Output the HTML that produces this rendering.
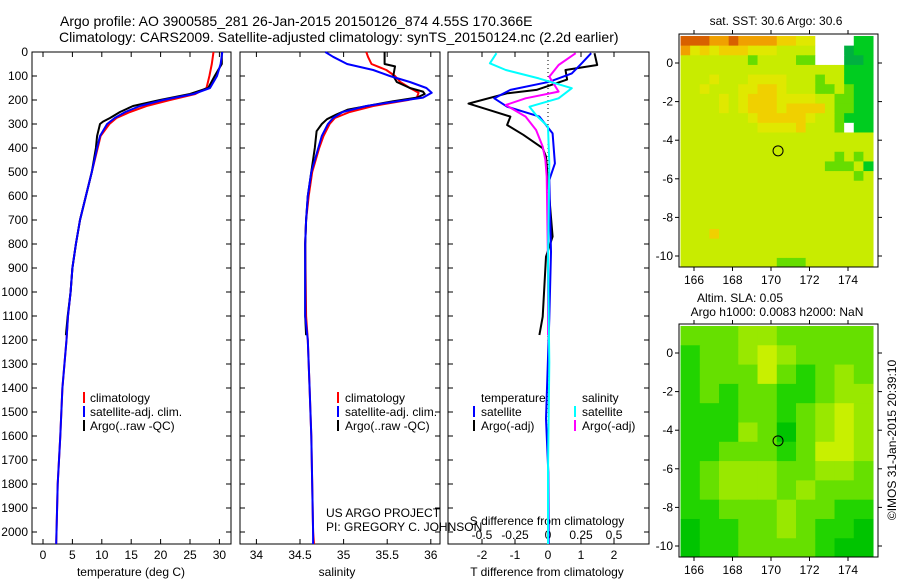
<!DOCTYPE html>
<html><head><meta charset="utf-8"><style>
html,body{margin:0;padding:0;background:#fff;}
svg{display:block;font-family:"Liberation Sans",sans-serif;}
</style></head><body>
<svg id="chart" width="900" height="580" viewBox="0 0 900 580" xmlns="http://www.w3.org/2000/svg">
<text x="60" y="26" font-size="14">Argo profile: AO 3900585_281 26-Jan-2015 20150126_874 4.55S 170.366E</text>
<text x="59" y="42" font-size="14">Climatology: CARS2009. Satellite-adjusted climatology: synTS_20150124.nc (2.2d earlier)</text>
<g id="p1"></g>
<g id="p2"></g>
<g id="p3"></g>
<g id="m1"></g>
<g id="m2"></g>
<text x="90" y="402" font-size="12">climatology</text>
<text x="90" y="416" font-size="12">satellite-adj. clim.</text>
<text x="90" y="430" font-size="12">Argo(..raw -QC)</text>
<rect x="83" y="392" width="2" height="11" fill="#f00"/><rect x="83" y="406" width="2" height="11" fill="#00f"/><rect x="83" y="420" width="2" height="11" fill="#000"/>
<text x="345" y="402" font-size="12">climatology</text>
<text x="345" y="416" font-size="12">satellite-adj. clim.</text>
<text x="345" y="430" font-size="12">Argo(..raw -QC)</text>
<rect x="337" y="392" width="2" height="11" fill="#f00"/><rect x="337" y="406" width="2" height="11" fill="#00f"/><rect x="337" y="420" width="2" height="11" fill="#000"/>
<text x="481" y="402" font-size="12">temperature</text>
<text x="481" y="416" font-size="12">satellite</text>
<text x="481" y="430" font-size="12">Argo(-adj)</text>
<rect x="473" y="406" width="2" height="11" fill="#00f"/><rect x="473" y="420" width="2" height="11" fill="#000"/>
<text x="582" y="402" font-size="12">salinity</text>
<text x="582" y="416" font-size="12">satellite</text>
<text x="582" y="430" font-size="12">Argo(-adj)</text>
<rect x="574" y="406" width="2" height="11" fill="#0ff"/><rect x="574" y="420" width="2" height="11" fill="#f0f"/>
<text x="326" y="517" font-size="12">US ARGO PROJECT</text>
<text x="326" y="531" font-size="12">PI: GREGORY C. JOHNSON</text>
<text x="776" y="25" font-size="12" text-anchor="middle">sat. SST: 30.6 Argo: 30.6</text>
<text x="740" y="302" font-size="12" text-anchor="middle">Altim. SLA: 0.05</text>
<text x="777" y="316" font-size="12" text-anchor="middle">Argo h1000: 0.0083 h2000: NaN</text>
<text transform="translate(896,440) rotate(-90)" font-size="12" text-anchor="middle">©IMOS 31-Jan-2015 20:39:10</text>
</svg>
<script>
// ---- data ----
const depthT = [0,50,75,100,150,175,200,225,250,275,300,350,400,500,600,700,800,900,1000,1100,1200,1400,1600,1800,2000,2050];
const tempClim = [29.0,28.7,28.5,28.3,27.8,25.9,21.6,17.6,14.8,12.5,11.3,9.8,9.3,8.3,7.3,6.3,5.6,5.0,4.7,4.25,4.0,3.3,2.95,2.5,2.3,2.25];
const tempSat  = [30.5,30.2,29.9,29.6,28.4,25.6,20.4,16.5,14.0,12.2,10.9,9.7,9.2,8.3,7.3,6.3,5.6,5.0,4.7,4.25,4.0,3.3,2.95,2.5,2.3,2.25];
const depthArgoT = [0,50,75,100,150,175,200,225,250,275,290,300,350,400,500,600,700,800,900,1000,1100,1180];
const tempArgo = [30.4,30.4,29.8,29.2,28.1,25.0,19.9,15.3,13.1,11.4,10.2,9.7,9.2,9.0,8.3,7.3,6.3,5.6,5.0,4.7,4.2,3.9];
const depthS = [0,20,50,75,100,125,150,170,190,200,225,250,275,300,350,400,500,600,700,800,1100,1200,1400,1600,1800,2000,2050];
const salClim = [35.26,35.28,35.32,35.49,35.59,35.65,35.76,35.86,35.84,35.74,35.34,35.07,34.90,34.84,34.77,34.72,34.64,34.60,34.57,34.56,34.57,34.59,34.61,34.63,34.64,34.65,34.66];
const salSat  = [34.79,34.88,35.04,35.34,35.53,35.76,35.95,36.01,35.91,35.72,35.26,34.99,34.88,34.82,34.75,34.71,34.63,34.59,34.57,34.56,34.56,34.59,34.61,34.63,34.64,34.65,34.65];
const depthArgoS = [0,50,60,100,125,150,165,175,190,205,220,240,260,280,300,330,400,500,600,700,800,1100,1180];
const salArgo = [35.47,35.47,35.59,35.57,35.61,35.76,35.91,35.93,35.84,35.57,35.34,35.05,34.92,34.81,34.75,34.69,34.67,34.63,34.59,34.57,34.56,34.56,34.57];
const depthDTs = [5,47,89,124,158,193,228,269,339,464,533,833,1111,1528,1750,2050];
const dTsat = [1.31,1.02,0.72,0.04,-1.14,-1.63,-1.24,-0.26,0.14,0.21,0.04,0.09,0.04,-0.06,0.01,0.02];
const depthDTa = [5,54,75,115,158,172,215,236,269,304,345,401,436,603,769,853,1103,1179];
const dTargo = [1.41,1.49,0.53,0.58,-0.35,-1.24,-2.41,-1.92,-1.14,-1.24,-0.75,-0.16,-0.06,0.04,0.14,-0.06,-0.16,-0.26];
const depthDSs = [5,47,75,110,151,193,228,263,311,464,880,1292,1750,2050];
const dSsat = [-0.39,-0.44,-0.32,-0.07,0.18,0.08,-0.14,-0.09,0,0.01,0,0.01,0,0];
const depthDSa = [5,54,103,165,193,221,269,325,394,450,519,880,1180];
const dSargo = [0.21,0.08,0.01,0.08,-0.17,-0.32,-0.17,-0.09,-0.04,-0.02,-0.01,0,0];
const depthTicks = [0,100,200,300,400,500,600,700,800,900,1000,1100,1200,1300,1400,1500,1600,1700,1800,1900,2000];
const tempTicks = [0,5,10,15,20,25,30];
const salTicks = [34,34.5,35,35.5,36];
const dtTicks = [-2,-1,0,1,2];
const dsTicks = [-0.5,-0.25,0,0.25,0.5];
const lonTicks = [166,168,170,172,174];
const latTicks = [0,-2,-4,-6,-8,-10];
const argoLon = 170.366, argoLat = -4.55;
// map grids: half-degree cells from lon 165.3 east, lat 1.4 south; digits = colour level, W = missing
const sstGrid = [
"88877877776655WWWW22",
"75656665554444WWW122",
"44444443444433WWW112",
"44444444444444444222",
"44454445555444344222",
"44544455665444334322",
"44445456665555443322",
"44445456665666643322",
"44444445666665443222",
"44444444555564443W22",
"44444444444444444444",
"44444444444444444444",
"44444444444444443434",
"44444444444444433342",
"44444444444444444434",
"44444444444444444444",
"44444444444444444444",
"44444444444444444444",
"44444444444444444444",
"44444444444444444444",
"44464444444444444444",
"44444444444444444444",
"44444444444444444444",
"44444444443334444444"];
const slaGrid = ["3334433333","2334543333","2333532343","2323322344","2223323454","2224313454","2233323554","2344433443","2344434333","2233343322","1223343221","1223333211"];

const NS="http://www.w3.org/2000/svg";
const svg=document.getElementById('chart');
function mk(parent,tag,attrs){const e=document.createElementNS(NS,tag);for(const k in attrs)e.setAttribute(k,attrs[k]);parent.appendChild(e);return e;}
const top0=52, bot=544;
const yD=d=>top0+d*0.24;
const xT=t=>43+t*5.88;
const xS=s=>300+(s-34.5)*87.2;
const xDT=v=>548+v*33;
const xDS=v=>548+v*132;

function panel(g,x0,x1){
  const r=mk(g,'rect',{x:x0,y:top0,width:x1-x0,height:bot-top0,fill:'none',stroke:'#000','stroke-width':1});
  
  
  depthTicks.forEach(d=>{mk(g,'line',{x1:x0,x2:x0+5,y1:yD(d),y2:yD(d),stroke:'#000'});mk(g,'line',{x1:x1,x2:x1-5,y1:yD(d),y2:yD(d),stroke:'#000'});});
}
function line(g,xs,ds,fx,color,name,w){
  const pts=xs.map((v,i)=>fx(v).toFixed(1)+','+yD(ds[i]).toFixed(1)).join(' ');
  const p=mk(g,'polyline',{points:pts,fill:'none',stroke:color,'stroke-width':w||2,'stroke-linejoin':'round'});
  
  
}
function xticks(g,ticks,fx,x0,x1,y,labels,fs,inside){
  ticks.forEach(t=>{const x=fx(t);
    if(inside){mk(g,'line',{x1:x,x2:x,y1:bot,y2:bot-5,stroke:'#000'});}
    else{mk(g,'line',{x1:x,x2:x,y1:bot,y2:bot-5,stroke:'#000'});mk(g,'line',{x1:x,x2:x,y1:top0,y2:top0+5,stroke:'#000'});}
    if(labels){const tx=mk(g,'text',{x:x,y:y,'font-size':fs||12,'text-anchor':'middle'});tx.textContent=String(t);
      
      }
  });
}
// panel 1
const p1=document.getElementById('p1');
panel(p1,32,231);
depthTicks.forEach(d=>{const t=mk(p1,'text',{x:28,y:yD(d)+4,'font-size':12,'text-anchor':'end'});t.textContent=d;
  
  });
xticks(p1,tempTicks,xT,32,231,559,true);
let t1=mk(p1,'text',{x:131,y:576,'font-size':12,'text-anchor':'middle'});t1.textContent='temperature (deg C)';


line(p1,tempClim,depthT,xT,'#f00','temp-climatology-line');
line(p1,tempArgo,depthArgoT,xT,'#000','temp-argo-line');
line(p1,tempSat,depthT,xT,'#00f','temp-satellite-line');
// panel 2
const p2=document.getElementById('p2');
panel(p2,240,440);
xticks(p2,salTicks,xS,240,440,559,true);
let t2=mk(p2,'text',{x:337,y:576,'font-size':12,'text-anchor':'middle'});t2.textContent='salinity';


line(p2,salClim,depthS,xS,'#f00','sal-climatology-line');
line(p2,salArgo,depthArgoS,xS,'#000','sal-argo-line');
line(p2,salSat,depthS,xS,'#00f','sal-satellite-line');
// panel 3
const p3=document.getElementById('p3');
panel(p3,448,649);
mk(p3,'line',{x1:xDT(0),x2:xDT(0),y1:top0,y2:bot,stroke:'#000','stroke-dasharray':'1,3'});
xticks(p3,dtTicks,xDT,448,649,559,true);
xticks(p3,dsTicks,xDS,448,649,539,true,12,true);
let t3=mk(p3,'text',{x:547,y:576,'font-size':12,'text-anchor':'middle'});t3.textContent='T difference from climatology';


let t4=mk(p3,'text',{x:547,y:525,'font-size':12,'text-anchor':'middle'});t4.textContent='S difference from climatology';


line(p3,dTargo,depthDTa,xDT,'#000','dt-argo-line');
line(p3,dTsat,depthDTs,xDT,'#00f','dt-satellite-line');
line(p3,dSargo,depthDSa,xDS,'#f0f','ds-argo-line');
line(p3,dSsat,depthDSs,xDS,'#0ff','ds-satellite-line');

// maps
const sstCols={'1':'#00b040','2':'#00cc20','3':'#66dd00','4':'#c8ec00','5':'#e0e800','6':'#f0d000','7':'#f0a000','8':'#d86000','W':'#ffffff'};
const slaCols={'1':'#00c400','2':'#22d400','3':'#66e000','4':'#99e800','5':'#c8f000'};
function map(g,top,grid,cols,name,step){
  const x0=679,x1=878,y1=top+233;
  const fx=lon=>694+(lon-166)*19.25;
  const fy=lat=>(top+29)-lat*19.3;
  grid.forEach((row,r)=>{[...row].forEach((c,ci)=>{
    const lx=Math.max(fx(165.3+ci*step),x0), rx=Math.min(fx(165.3+(ci+1)*step),x1);
    const ty=Math.max(fy(1.4-r*step),top), by=Math.min(fy(1.4-(r+1)*step),y1);
    if(rx<=lx||by<=ty) return;
    const cell=mk(g,'rect',{x:lx,y:ty,width:rx-lx+0.5,height:by-ty+0.5,fill:cols[c]});
    
    
  });});
  const fr=mk(g,'rect',{x:x0,y:top,width:x1-x0,height:y1-top,fill:'none',stroke:'#000'});
  
  
  lonTicks.forEach(l=>{const x=fx(l);mk(g,'line',{x1:x,x2:x,y1:y1,y2:y1+4,stroke:'#000'});mk(g,'line',{x1:x,x2:x,y1:top,y2:top-4,stroke:'#000'});
    const t=mk(g,'text',{x:x,y:y1+17,'font-size':12,'text-anchor':'middle'});t.textContent=l;
    
    });
  latTicks.forEach(l=>{const y=fy(l);mk(g,'line',{x1:x0,x2:x0-4,y1:y,y2:y,stroke:'#000'});mk(g,'line',{x1:x1,x2:x1+4,y1:y,y2:y,stroke:'#000'});
    const t=mk(g,'text',{x:673,y:y+4,'font-size':12,'text-anchor':'end'});t.textContent=l;
    
    });
  const c=mk(g,'circle',{cx:fx(argoLon),cy:fy(argoLat),r:5,fill:'none',stroke:'#000','stroke-width':1});
  
  
}
map(document.getElementById('m1'),34,sstGrid,sstCols,'sst-map',0.5);
map(document.getElementById('m2'),324,slaGrid,slaCols,'sla-map',1);
</script>
</body></html>
